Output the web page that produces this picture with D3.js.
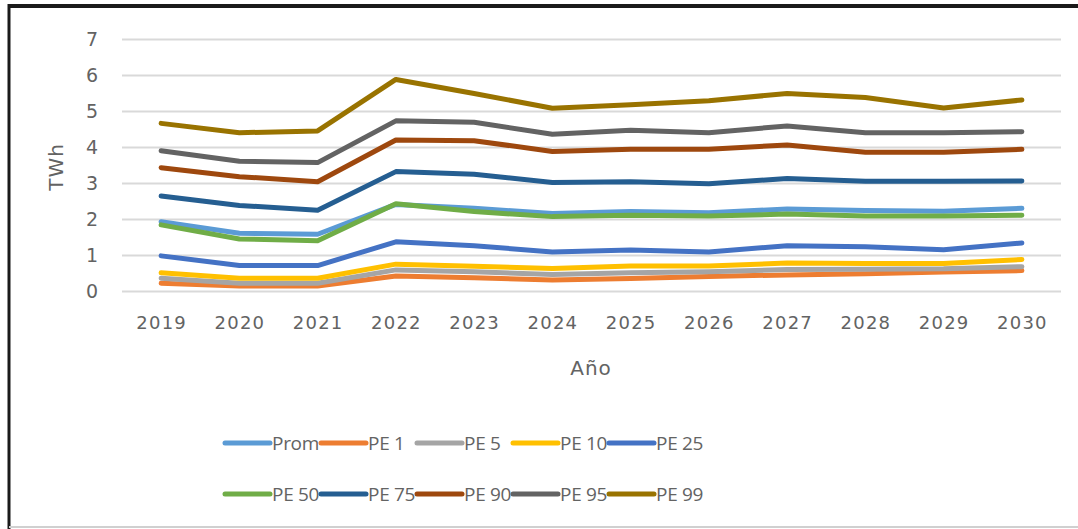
<!DOCTYPE html>
<html>
<head>
<meta charset="utf-8">
<script src="https://cdn.jsdelivr.net/npm/d3@7"></script>
<style>
  body { margin: 0; background: #fff; }
  svg text { font-family: "DejaVu Sans", sans-serif; fill: #636363; }
</style>
</head>
<body>
<svg id="chart" width="1078" height="529"></svg>
<script>
// Years on the x axis
const years = ["2019", "2020", "2021", "2022", "2023", "2024", "2025", "2026", "2027", "2028", "2029", "2030"];

// Series values (TWh)
const prom = [1.94, 1.62, 1.59, 2.42, 2.31, 2.17, 2.22, 2.19, 2.29, 2.25, 2.23, 2.31];
const pe1  = [0.23, 0.15, 0.15, 0.43, 0.38, 0.32, 0.36, 0.42, 0.46, 0.49, 0.54, 0.58];
const pe5  = [0.37, 0.23, 0.23, 0.60, 0.55, 0.47, 0.52, 0.55, 0.61, 0.62, 0.63, 0.69];
const pe10 = [0.52, 0.37, 0.37, 0.76, 0.70, 0.64, 0.71, 0.71, 0.79, 0.78, 0.78, 0.89];
const pe25 = [0.99, 0.72, 0.72, 1.38, 1.27, 1.10, 1.15, 1.10, 1.27, 1.24, 1.16, 1.35];
const pe50 = [1.85, 1.46, 1.41, 2.44, 2.22, 2.08, 2.12, 2.10, 2.15, 2.10, 2.10, 2.12];
const pe75 = [2.65, 2.39, 2.26, 3.33, 3.26, 3.03, 3.05, 2.99, 3.14, 3.06, 3.06, 3.07];
const pe90 = [3.44, 3.19, 3.05, 4.21, 4.19, 3.89, 3.95, 3.95, 4.07, 3.87, 3.87, 3.95];
const pe95 = [3.91, 3.62, 3.58, 4.74, 4.70, 4.37, 4.48, 4.41, 4.60, 4.41, 4.41, 4.44];
const pe99 = [4.67, 4.41, 4.46, 5.89, 5.50, 5.09, 5.19, 5.30, 5.50, 5.39, 5.10, 5.32];

const seriesNames = ["Prom", "PE 1", "PE 5", "PE 10", "PE 25", "PE 50", "PE 75", "PE 90", "PE 95", "PE 99"];
const seriesValues = [prom, pe1, pe5, pe10, pe25, pe50, pe75, pe90, pe95, pe99];
const yTicks = [0, 1, 2, 3, 4, 5, 6, 7];

const colors = ["#5B9BD5", "#ED7D31", "#A5A5A5", "#FFC000", "#4472C4",
                "#70AD47", "#255E91", "#9E480E", "#636363", "#997300"];

const svg = d3.select("#chart");

// Frame around the chart (black top/left, light bottom)
svg.append("line").attr("x1", 9).attr("x2", 1078).attr("y1", 6).attr("y2", 6)
    .attr("stroke", "#1a1a1a").attr("stroke-width", 4);
svg.append("line").attr("x1", 9).attr("x2", 9).attr("y1", 4).attr("y2", 529)
    .attr("stroke", "#1a1a1a").attr("stroke-width", 3);
svg.append("line").attr("x1", 9).attr("x2", 1078).attr("y1", 527).attr("y2", 527)
    .attr("stroke", "#d0d0d0").attr("stroke-width", 2);

const plot = { left: 122, right: 1061, top: 39.5, bottom: 291.5 };

const x = d3.scalePoint()
    .domain(years)
    .range([plot.left, plot.right])
    .padding(0.5);

const y = d3.scaleLinear()
    .domain([0, 7])
    .range([plot.bottom, plot.top]);

// Gridlines
svg.append("g")
    .selectAll("line")
    .data(yTicks)
    .join("line")
    .attr("x1", plot.left)
    .attr("x2", plot.right)
    .attr("y1", d => y(d))
    .attr("y2", d => y(d))
    .attr("stroke", "#d9d9d9")
    .attr("stroke-width", 2);

// Y axis labels
const yAxis = svg.append("g")
    .attr("transform", `translate(${plot.left - 22},0)`)
    .call(d3.axisLeft(y).tickValues(yTicks).tickFormat(d3.format("d")).tickSize(0).tickPadding(0));
yAxis.select(".domain").remove();
yAxis.selectAll("text")
    .attr("text-anchor", "middle")
    .attr("x", -8)
    .style("font-size", "19px")
    .style("fill", "#636363");

// X axis labels
const xAxis = svg.append("g")
    .attr("transform", `translate(0,${plot.bottom})`)
    .call(d3.axisBottom(x).tickSize(0).tickPadding(25));
xAxis.select(".domain").remove();
xAxis.selectAll("text")
    .style("font-size", "18px")
    .style("letter-spacing", "1.2px")
    .style("fill", "#636363");

// Axis titles
svg.append("text")
    .attr("x", 591)
    .attr("y", 375)
    .attr("text-anchor", "middle")
    .style("font-size", "20px")
    .style("letter-spacing", "1px")
    .text("Año");

svg.append("text")
    .attr("transform", "translate(63,167) rotate(-90)")
    .attr("text-anchor", "middle")
    .style("font-size", "20px")
    .style("letter-spacing", "1px")
    .text("TWh");

// Series lines
const line = d3.line()
    .x((d, i) => x(years[i]))
    .y(d => y(d));

svg.append("g")
    .selectAll("path")
    .data(seriesValues)
    .join("path")
    .attr("d", line)
    .attr("fill", "none")
    .attr("stroke", (d, i) => colors[i])
    .attr("stroke-width", 5)
    .attr("stroke-linejoin", "round")
    .attr("stroke-linecap", "round");

// Legend: two rows of five
const legendX = [225, 321, 417, 513, 609];
const legendY = [443, 494];

const legend = svg.append("g")
    .selectAll("g")
    .data(seriesNames)
    .join("g")
    .attr("transform", (d, i) => `translate(${legendX[i % 5]},${legendY[Math.floor(i / 5)]})`);

legend.append("line")
    .attr("x1", 0)
    .attr("x2", 45)
    .attr("stroke", (d, i) => colors[i])
    .attr("stroke-width", 5)
    .attr("stroke-linecap", "round");

legend.append("text")
    .attr("x", 47)
    .attr("dy", "0.36em")
    .style("font-family", "'Open Sans', sans-serif")
    .style("font-size", "19px")
    .style("letter-spacing", "-0.3px")
    .text(d => d);
</script>
</body>
</html>
